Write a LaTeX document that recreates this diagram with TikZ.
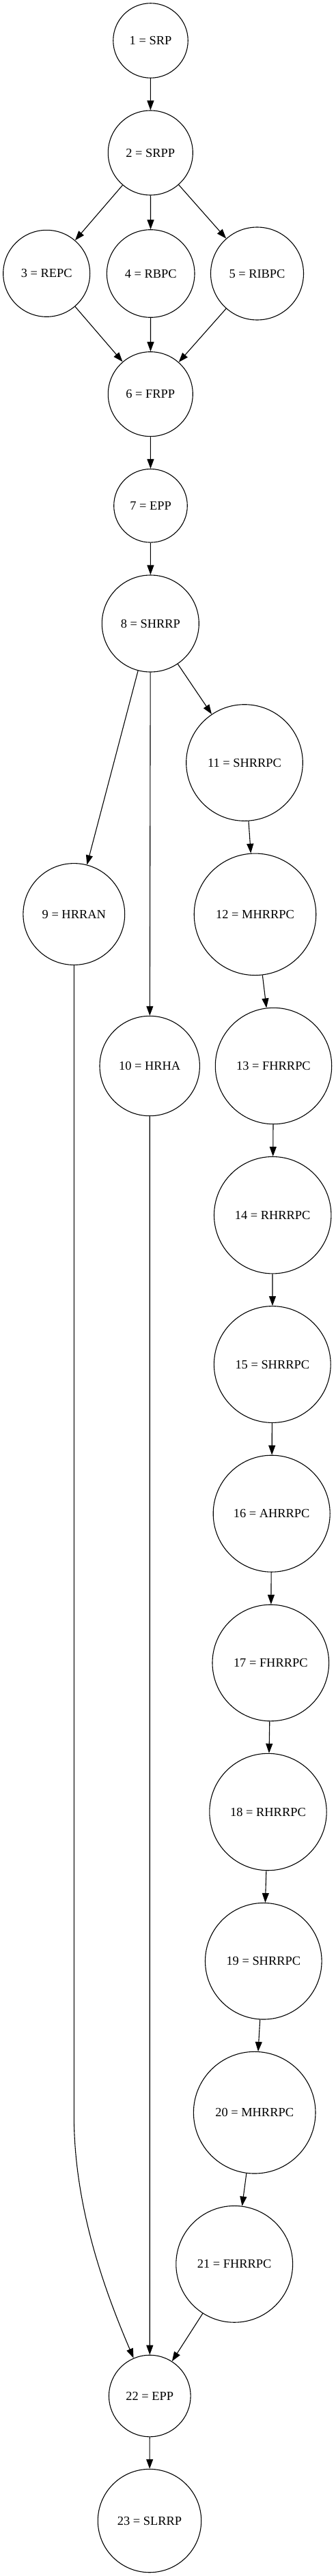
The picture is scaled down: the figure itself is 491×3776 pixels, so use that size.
\documentclass[tikz,border=0pt]{standalone}
\usepackage{fontspec}
\setmainfont{Liberation Serif}
\usetikzlibrary{arrows.meta}
\begin{document}
\begin{tikzpicture}[x=1pt,y=-1pt,
  font=\fontsize{18.4pt}{22pt}\selectfont,
  state/.style={draw,circle,line width=1.1pt,inner sep=0pt},
  edge/.style={line width=1.1pt,-{Triangle[length=14pt,width=10pt]}}]
  \useasboundingbox (0,0) rectangle (491,3776);
  \foreach \n/\x/\y/\d/\t in {
    1/220.5/59.5/109.5/SRP, 2/220.3/224/124/SRPP,
    3/68.2/400.8/127/REPC, 4/220.7/401/128.6/RBPC,
    5/376.5/401/136/RIBPC, 6/220.3/577.7/124/FRPP,
    7/220.5/741.3/107.6/EPP, 8/220.3/914/142/SHRRP,
    9/108.3/1340/148.8/HRRAN, 10/219.2/1562.5/146.4/HRHA,
    11/358/1118/170.6/SHRRPC, 12/373.5/1340.3/178.5/MHRRPC,
    13/400.5/1562.5/170.4/FHRRPC, 14/399.2/1781.2/171.4/RHRRPC,
    15/398.8/2000/170.8/SHRRPC, 16/397.7/2218.7/171/AHRRPC,
    17/396.3/2437.5/170.6/FHRRPC, 18/392.5/2656/171.4/RHRRPC,
    19/385.8/2874.7/170.6/SHRRPC, 20/372.7/3096.7/178.6/MHRRPC,
    21/343.2/3318.8/170.8/FHRRPC, 22/219.3/3512/119.6/EPP,
    23/219/3695/151.4/SLRRP} {
    \node[state,minimum size=\d pt] (n\n) at (\x,\y) {\n{} = \t};
  }
  \foreach \a/\b in {1/2, 2/3, 2/4, 2/5, 3/6, 4/6, 5/6, 6/7, 7/8,
    8/9, 8/10, 8/11, 11/12, 12/13, 13/14, 14/15, 15/16, 16/17,
    17/18, 18/19, 19/20, 20/21, 21/22, 10/22, 22/23}
    \draw[edge] (n\a) -- (n\b);
  \coordinate (bend) at (108.3,3100);
  \draw[edge] (n9) -- (bend) .. controls (108.3,3230) and (150,3350) .. (n22);
\end{tikzpicture}
\end{document}
